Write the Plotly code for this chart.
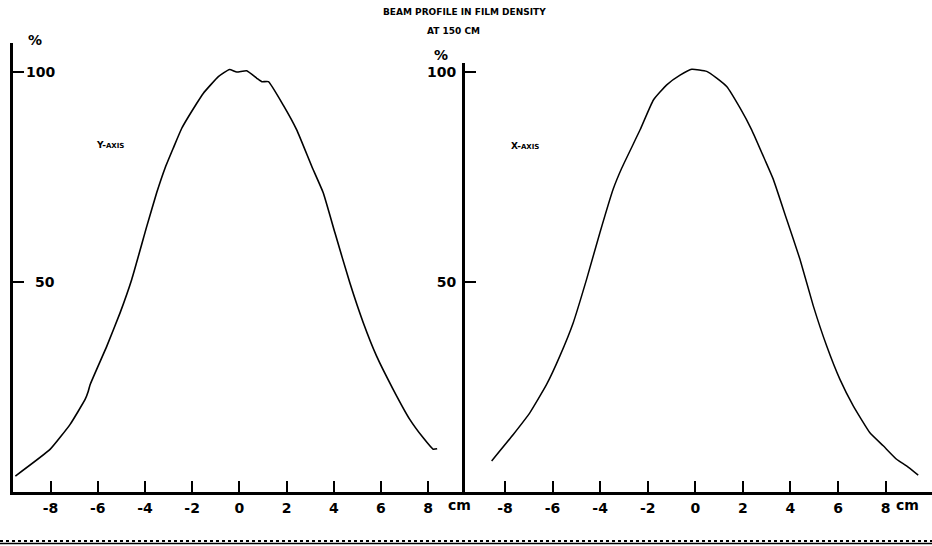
import plotly.graph_objects as go

W, H = 932, 546

# ---- data (position in cm, relative film density in %) ----
y_scan_cm = [-9.49, -8.01, -7.17, -6.53, -6.40, -6.32, -5.61, -5.05, -4.56, -3.92, -3.50,
             -3.15, -2.79, -2.44, -1.81, -1.53, -0.89, -0.42, -0.11, 0.31, 0.74, 0.95,
             1.23, 1.86, 2.43, 3.07, 3.55, 4.05, 4.68, 5.25, 5.81, 6.52, 7.22, 7.79,
             8.21, 8.38]
y_scan_pct = [3.8, 10.2, 16.1, 22.1, 24.0, 25.6, 34.8, 42.7, 50.6, 63.3, 71.3,
              77.1, 82.0, 86.6, 92.5, 94.9, 98.9, 100.6, 100.0, 100.3, 98.5, 97.7,
              97.7, 92.1, 86.2, 77.5, 71.3, 61.7, 49.8, 40.3, 32.4, 24.4, 17.3, 12.9,
              10.2, 10.3]

x_scan_cm = [-8.56, -7.65, -6.95, -6.25, -5.69, -5.13, -4.57, -4.01, -3.45, -3.09, -2.32,
             -1.76, -1.20, -0.64, -0.15, 0.48, 0.90, 1.32, 1.88, 2.37, 2.93, 3.28,
             3.84, 4.40, 4.96, 5.52, 6.08, 6.64, 7.34, 7.90, 8.46, 8.88, 9.37]
x_scan_pct = [7.4, 13.7, 18.9, 25.6, 32.4, 40.3, 50.6, 61.7, 72.1, 77.1, 86.2,
              93.3, 96.9, 99.2, 100.6, 100.1, 98.5, 96.5, 91.4, 86.2, 79.0, 74.4,
              64.9, 55.4, 44.3, 34.8, 26.8, 20.5, 14.1, 11.0, 7.8, 6.2, 4.0]

x_ticks = [-8, -6, -4, -2, 0, 2, 4, 6, 8]
x_tick_text = ["-8", "-6", "-4", "-2", "0", "2", "4", "6", "8"]
y_ticks = [50, 100]
y_tick_text = ["50", "100"]

FONT = "DejaVu Sans"
tickfont = dict(family=FONT, size=14, color="black", weight="bold")

fig = go.Figure()
fig.add_trace(go.Scatter(x=y_scan_cm, y=y_scan_pct, xaxis="x", yaxis="y", mode="lines",
                         line=dict(color="black", width=1.6, shape="spline", smoothing=0.4),
                         hoverinfo="skip"))
fig.add_trace(go.Scatter(x=x_scan_cm, y=x_scan_pct, xaxis="x2", yaxis="y2", mode="lines",
                         line=dict(color="black", width=1.5, shape="spline", smoothing=0.4),
                         hoverinfo="skip"))

def px(x):
    return x / W

def py(y):
    return (H - y) / H

common_x = dict(showline=True, linewidth=2.5, linecolor="black", ticks="inside", ticklen=11,
                tickwidth=2, tickcolor="black", tickvals=x_ticks, ticktext=x_tick_text,
                showgrid=False, zeroline=False, tickfont=tickfont, ticklabelstandoff=1,
                automargin=False, fixedrange=True)
common_y = dict(showline=True, linewidth=3, linecolor="black", ticks="inside", ticklen=11,
                tickwidth=2, tickcolor="black", tickvals=y_ticks,
                showgrid=False, zeroline=False, tickfont=tickfont, automargin=False,
                fixedrange=True)

fig.update_layout(
    width=W, height=H,
    margin=dict(l=0, r=0, t=0, b=0, autoexpand=False),
    paper_bgcolor="white", plot_bgcolor="white",
    showlegend=False,
    xaxis=dict(domain=[px(13), px(465)], range=[-9.59, 9.56], anchor="y", **common_x),
    yaxis=dict(domain=[py(492), py(43)], range=[0, 106.9], anchor="x",
               showticklabels=False, **common_y),
    xaxis2=dict(domain=[px(465), 1], range=[-9.68, 9.95], anchor="y2", **common_x),
    yaxis2=dict(domain=[py(492), py(63)], range=[0, 102.1], anchor="x2",
                ticktext=y_tick_text, ticklabelstandoff=3, **common_y),
)

bold = dict(family=FONT, color="black", weight="bold")
ann = [
    dict(x=px(464), y=py(12), text="BEAM PROFILE IN FILM DENSITY", font=dict(size=9, **bold)),
    dict(x=px(453), y=py(31), text="AT 150 CM", font=dict(size=9, **bold)),
    dict(x=px(35), y=py(40), text="%", font=dict(size=14, **bold)),
    dict(x=px(441), y=py(55), text="%", font=dict(size=14, **bold)),
    dict(x=px(110), y=py(145), text="Y-<span style='font-size:7px'>AXIS</span>",
         font=dict(size=9, **bold)),
    dict(x=px(525), y=py(146), text="X-<span style='font-size:7px'>AXIS</span>",
         font=dict(size=9, **bold)),
    dict(x=px(459), y=py(505), text="cm", font=dict(size=14, **bold)),
    dict(x=px(907), y=py(505), text="cm", font=dict(size=14, **bold)),
]
for a in ann:
    a.update(xref="paper", yref="paper", showarrow=False, xanchor="center", yanchor="middle")
# left panel value labels, placed on the left y scale
for v, t in zip(y_ticks, y_tick_text):
    ann.append(dict(x=px(57), y=v, xref="paper", yref="y", text=t, showarrow=False,
                    xanchor="right", yanchor="middle", font=tickfont))
fig.update_layout(annotations=ann)

fig.add_shape(type="line", xref="paper", yref="paper", x0=0, x1=1, y0=py(543.5), y1=py(543.5),
              line=dict(color="black", width=1.5))
fig.add_shape(type="line", xref="paper", yref="paper", x0=0, x1=1, y0=py(541), y1=py(541),
              line=dict(color="black", width=2, dash="dot"))

fig.write_html("out.html", config={"displayModeBar": False},
               post_script="document.body.style.margin='0';document.body.style.overflow='hidden';")
